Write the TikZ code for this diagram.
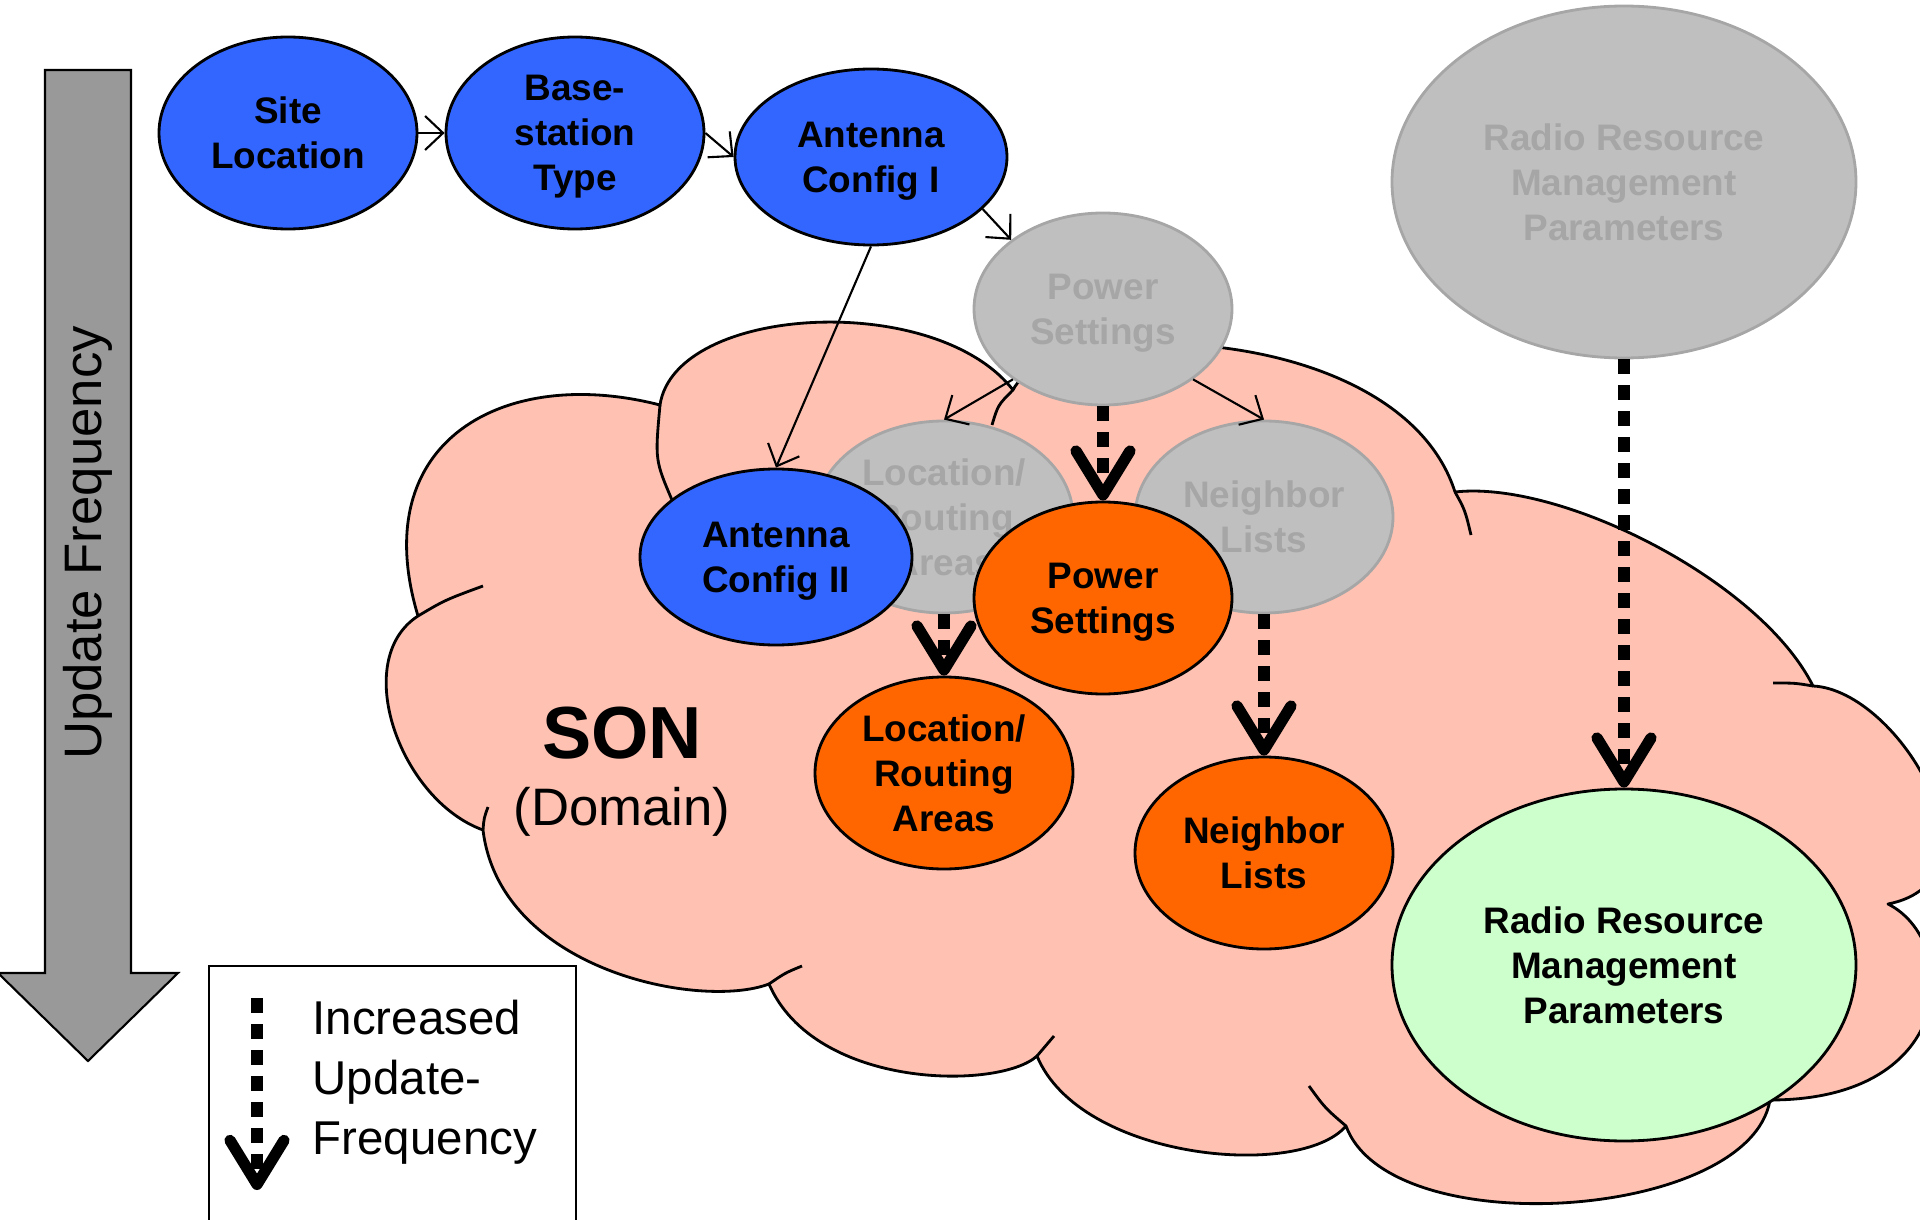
\documentclass[tikz,border=0pt]{standalone}
\usepackage{fontspec}
\setmainfont{Liberation Sans}
\usetikzlibrary{arrows.meta,shapes.geometric}

\definecolor{sonblue}{RGB}{51,102,255}
\definecolor{sonorange}{RGB}{255,102,0}
\definecolor{songreen}{RGB}{204,255,204}
\definecolor{soncloud}{RGB}{255,193,178}
\definecolor{oldfill}{RGB}{191,191,191}
\definecolor{oldline}{RGB}{166,166,166}
\definecolor{bigarrow}{RGB}{153,153,153}

\tikzset{
  param/.style={ellipse, draw=black, line width=0.8pt, inner sep=0pt, align=center,
    font=\fontsize{10.5}{12.8}\selectfont\bfseries, text depth=0pt,
    minimum width=25.8mm, minimum height=19.2mm},
  wide/.style={minimum width=27.2mm, minimum height=17.6mm},
  rrmsize/.style={minimum width=46.4mm, minimum height=35.2mm},
  old/.style={param, fill=oldfill, draw=oldline, text=oldline},
  dep/.style={line width=0.6pt, -{Straight Barb[length=1.8mm,width=3.4mm]}},
  freq/.style={line width=3.2pt, dash pattern=on 1.5mm off 1.1mm,
    -{Straight Barb[length=4.4mm,width=5.4mm,round]}},
}

\begin{document}
\begin{tikzpicture}[x=0.1mm, y=-0.1mm]
\useasboundingbox (0,0) rectangle (1920,1220);
\clip (0,0) rectangle (1920,1220);
% update frequency arrow
\draw[line width=0.6pt, fill=bigarrow] (45,70) -- (131,70) -- (131,973) -- (178,973)
  -- (88,1061) -- (-2,973) -- (45,973) -- cycle;
\node[rotate=90, font=\fontsize{15}{18}\selectfont] (freqlabel) at (88,543) {Update Frequency};
% SON cloud
\draw[line width=0.8pt, line join=round, fill=soncloud] (418,616)
  .. controls (365,440) and (505,365) .. (660,405)
  .. controls (675,305) and (935,290) .. (1013,390)
  .. controls (1050,315) and (1400,320) .. (1455,492)
  .. controls (1560,480) and (1760,580) .. (1813,686)
  .. controls (1900,690) and (2010,880) .. (1888,904)
  .. controls (1960,940) and (1960,1100) .. (1770,1100)
  .. controls (1750,1220) and (1390,1245) .. (1346,1126)
  .. controls (1300,1180) and (1080,1160) .. (1037,1056)
  .. controls (1000,1090) and (815,1090) .. (769,984)
  .. controls (700,1010) and (500,970) .. (483,830)
  .. controls (400,800) and (350,660) .. (418,616) -- cycle;
\foreach \s/\m/\e in {{418,616}/{445,600}/{483,586}, {660,405}/{655,460}/{672,500},
    {1013,390}/{998,405}/{992,425}, {1455,492}/{1465,510}/{1471,535},
    {1813,686}/{1795,683}/{1773,683}, {1346,1126}/{1325,1108}/{1309,1086},
    {1037,1056}/{1045,1046}/{1054,1036}, {769,984}/{785,973}/{802,966},
    {483,830}/{484,818}/{488,807}}
  \draw[line width=0.8pt] (\s) .. controls (\m) .. (\e);
\node[font=\fontsize{21}{24}\selectfont\bfseries] (son) at (622,733) {SON};
\node[font=\fontsize{15}{18}\selectfont] (domain) at (622,812) {(Domain)};
% parameters before SON
\node[param, fill=sonblue] (site) at (288,133) {Site\\Location};
\node[param, fill=sonblue] (bstype) at (575,133) {Base-\\station\\Type};
\node[param, wide, fill=sonblue] (ant1) at (871,157) {Antenna\\Config I};
\node[old] (pwrold) at (1103,309) {Power\\Settings};
\node[old, rrmsize] (rrmold) at (1624,182) {Radio Resource\\Management\\Parameters};
\node[old] (locold) at (944,517) {Location/\\Routing\\Areas};
\node[old] (nbrold) at (1264,517) {Neighbor\\Lists};
% parameters inside SON
\node[param, wide, fill=sonblue] (ant2) at (776,557) {Antenna\\Config II};
\node[param, fill=sonorange] (pwr) at (1103,598) {Power\\Settings};
\node[param, fill=sonorange] (loc) at (944,773) {Location/\\Routing\\Areas};
\node[param, fill=sonorange] (nbr) at (1264,853) {Neighbor\\Lists};
\node[param, rrmsize, fill=songreen] (rrm) at (1624,965) {Radio Resource\\Management\\Parameters};
% dependencies
\draw[dep] (site) -- (bstype);
\draw[dep] (bstype.east) -- (ant1.west);
\draw[dep] (ant1.-25) -- (pwrold.143);
\draw[dep] (ant1.south) -- (ant2.north);
\draw[dep] (pwrold.218) -- (locold.north);
\draw[dep] (pwrold.-38) -- (nbrold.north);
% increased update frequency
\draw[freq] (pwrold.south) -- (pwr.north);
\draw[freq] (locold.south) -- (loc.north);
\draw[freq] (nbrold.south) -- (nbr.north);
\draw[freq] (rrmold.south) -- (rrm.north);
% legend
\draw[line width=0.8pt] (209,966) rectangle (576,1240);
\coordinate (legtop) at (257,998);
\coordinate (legtip) at (257,1190);
\draw[freq] (legtop) -- (legtip);
\node[anchor=west, align=left, inner sep=0pt, font=\fontsize{13.5}{17}\selectfont] (legtext)
  at (312,1082) {Increased\\Update-\\Frequency};
\end{tikzpicture}
\end{document}
